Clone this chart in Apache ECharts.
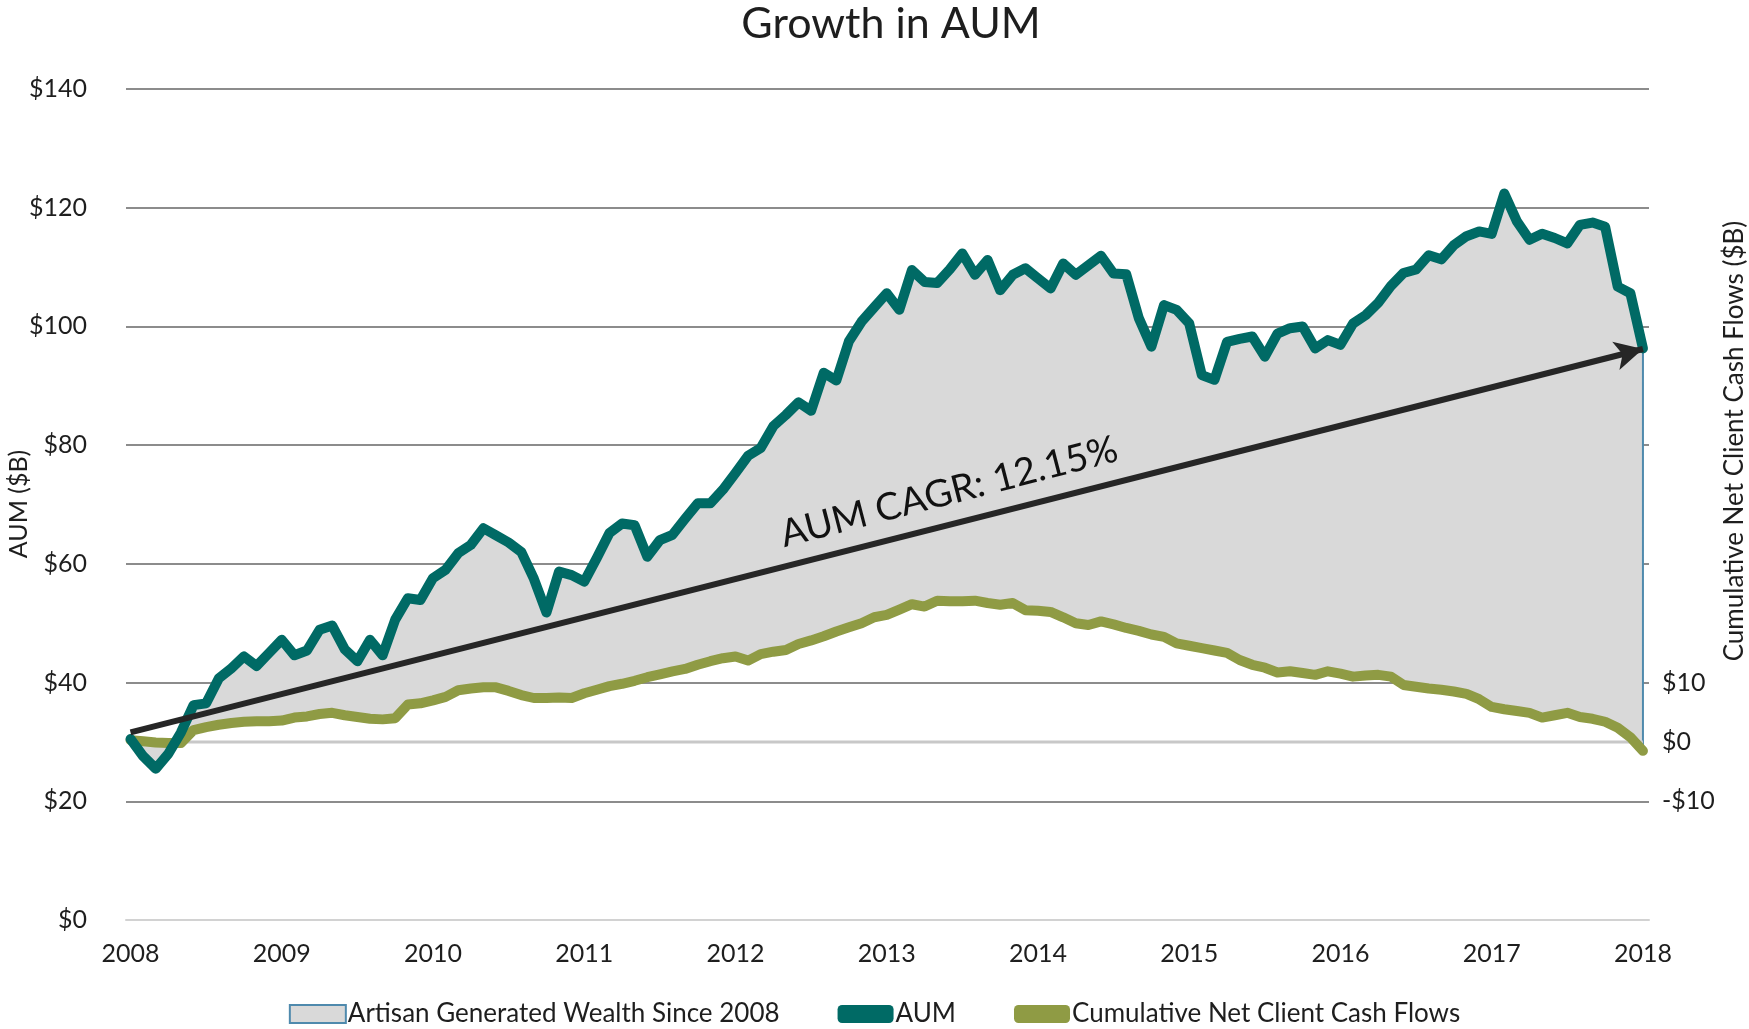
<!DOCTYPE html>
<html>
<head>
<meta charset="utf-8">
<script src="https://cdn.jsdelivr.net/npm/echarts@6/dist/echarts.min.js"></script>
<style>
  html, body { margin: 0; padding: 0; background: #ffffff; }
  #chart { width: 1749px; height: 1029px; }
</style>
</head>
<body>
<div id="chart"></div>
<script>
// ---------- data ----------
const startYear = 2008;
const yearTicks = [2008, 2009, 2010, 2011, 2012, 2013, 2014, 2015, 2016, 2017, 2018];
// monthly points, Jan 2008 .. Jan 2018
const aum = [
  30.5, 27.6, 25.5, 28.0, 31.6, 36.2, 36.5, 40.7, 42.4, 44.4, 42.8, 45.0,
  47.2, 44.6, 45.4, 48.9, 49.6, 45.6, 43.6, 47.2, 44.6, 50.6, 54.2, 53.9,
  57.6, 59.0, 61.8, 63.2, 66.0, 64.8, 63.6, 62.0, 57.5, 51.8, 58.7, 58.1,
  57.0, 61.0, 65.2, 66.8, 66.5, 61.2, 64.0, 64.9, 67.6, 70.2, 70.2, 72.5,
  75.3, 78.2, 79.5, 83.2, 85.1, 87.2, 85.8, 92.2, 90.9, 97.5, 100.8, 103.2,
  105.6, 102.8, 109.5, 107.5, 107.3, 109.6, 112.3, 108.7, 111.2, 106.1, 108.7, 109.8,
  108.1, 106.4, 110.6, 108.7, 110.3, 111.9, 108.9, 108.8, 101.4, 96.6, 103.6, 102.8,
  100.5, 91.8, 91.0, 97.4, 97.9, 98.3, 94.9, 98.8, 99.7, 100.0, 96.3, 97.7,
  96.9, 100.5, 101.9, 104.0, 106.8, 109.0, 109.6, 112.0, 111.3, 113.7, 115.2, 116.0,
  115.6, 122.4, 117.7, 114.6, 115.6, 114.9, 114.0, 117.1, 117.5, 116.8, 106.7, 105.6,
  96.3
];
const netFlows = [
  0.3, 0.1, -0.1, -0.2, -0.2, 2.0, 2.5, 2.9, 3.2, 3.4, 3.5, 3.5,
  3.6, 4.1, 4.3, 4.7, 4.9, 4.5, 4.2, 3.9, 3.8, 4.0, 6.3, 6.5,
  7.0, 7.6, 8.7, 9.0, 9.2, 9.2, 8.6, 7.9, 7.4, 7.4, 7.5, 7.4,
  8.2, 8.8, 9.4, 9.8, 10.3, 10.9, 11.4, 11.9, 12.3, 13.0, 13.6, 14.1,
  14.4, 13.7, 14.8, 15.2, 15.5, 16.5, 17.1, 17.8, 18.6, 19.3, 20.0, 21.0,
  21.4, 22.3, 23.2, 22.8, 23.8, 23.7, 23.7, 23.8, 23.4, 23.1, 23.4, 22.2,
  22.1, 21.9, 21.0, 20.0, 19.7, 20.3, 19.8, 19.2, 18.7, 18.1, 17.7, 16.6,
  16.2, 15.8, 15.4, 15.0, 13.8, 13.0, 12.5, 11.7, 11.9, 11.6, 11.3, 11.9,
  11.5, 11.0, 11.2, 11.3, 11.0, 9.6, 9.3, 9.0, 8.8, 8.5, 8.1, 7.2,
  5.9, 5.5, 5.2, 4.9, 4.1, 4.5, 4.9, 4.2, 3.9, 3.4, 2.4, 0.8,
  -1.5
];
const cagrLine = [31.6, 96.2];          // AUM at start / end of the CAGR arrow
const rightLabelValues = [-10, 0, 10];
const rightTickValues = [-10, 10, 30, 50, 70, 90, 110];

const months = aum.map((_, i) => startYear + i / 12);
const leftMin = 0, leftMax = 140;
const rightMin = -30, rightMax = 110;
const flowOffset = leftMin - rightMin;   // right axis value v sits at left value v + 30

const names = {
  band: 'Artisan Generated Wealth Since 2008',
  aum: 'AUM',
  flows: 'Cumulative Net Client Cash Flows'
};
const C = {
  teal: '#006A65', olive: '#8F9B44', band: '#D9D9D9', bandEdge: '#4F8AAD',
  grid: '#8C8C8C', base: '#D2D2D2', text: '#1E1E1E', arrow: '#262626'
};
const FONT = 'Lato, "Open Sans", sans-serif';

const chart = echarts.init(document.getElementById('chart'));
chart.setOption({
  animation: false,
  backgroundColor: '#ffffff',
  textStyle: { fontFamily: FONT },
  title: {
    text: 'Growth in AUM',
    left: 886, top: -2, textAlign: 'center',
    textStyle: { fontFamily: FONT, fontSize: 43, fontWeight: 'normal', color: C.text }
  },
  grid: { left: 126, right: 100, top: 89, bottom: 109 },
  legend: {
    bottom: -3, left: 'center',
    itemWidth: 56, itemHeight: 18, itemGap: 58,
    textStyle: { fontFamily: FONT, fontSize: 26, color: C.text, padding: [0, 0, 0, -3] },
    data: [
      { name: names.band, icon: 'rect', itemStyle: { color: C.band, borderColor: C.bandEdge, borderWidth: 2 } },
      { name: names.aum, icon: 'roundRect', itemStyle: { color: C.teal } },
      { name: names.flows, icon: 'roundRect', itemStyle: { color: C.olive } }
    ]
  },
  xAxis: {
    type: 'value', min: 2007.97, max: 2018.04,
    axisLine: { show: true, lineStyle: { color: C.base, width: 2 } },
    axisTick: { show: false },
    splitLine: { show: false },
    axisLabel: {
      customValues: yearTicks, margin: 21,
      fontFamily: FONT, fontSize: 25, color: C.text,
      formatter: v => String(Math.round(v))
    }
  },
  yAxis: [
    {
      type: 'value', min: leftMin, max: leftMax, interval: 20,
      axisLine: { show: false }, axisTick: { show: false },
      splitLine: { show: true, lineStyle: { width: 2, color: [C.base, C.grid, C.grid, C.grid, C.grid, C.grid, C.grid, C.grid] } },
      axisLabel: { margin: 39, fontFamily: FONT, fontSize: 25, color: C.text, formatter: v => '$' + v }
    },
    {
      type: 'value', min: rightMin, max: rightMax, interval: 10, position: 'right',
      axisLine: { show: false },
      splitLine: { show: false },
      axisTick: { show: true, inside: true, length: 7, customValues: rightTickValues, lineStyle: { color: C.grid, width: 2 } },
      axisLabel: {
        customValues: rightLabelValues, margin: 13,
        fontFamily: FONT, fontSize: 25, color: C.text,
        formatter: v => (v < 0 ? '-$' + Math.abs(v) : '$' + v)
      }
    }
  ],
  graphic: [
    { type: 'text', x: 19, y: 504, rotation: Math.PI / 2, silent: true,
      style: { text: 'AUM ($B)', font: '25px ' + FONT, fill: C.text, align: 'center', verticalAlign: 'middle' } },
    { type: 'text', x: 1735, y: 441, rotation: Math.PI / 2, silent: true,
      style: { text: 'Cumulative Net Client Cash Flows ($B)', font: '26px ' + FONT, fill: C.text, align: 'center', verticalAlign: 'middle' } },
    { type: 'text', x: 949, y: 492, rotation: 14.5 * Math.PI / 180, silent: true, z: 100,
      style: { text: 'AUM CAGR: 12.15%', font: '38px ' + FONT, fill: '#111111', align: 'center', verticalAlign: 'middle' } }
  ],
  series: [
    {
      name: names.band, type: 'custom', xAxisIndex: 0, yAxisIndex: 0, z: 1, silent: true,
      data: [[months[0], aum[0]]],
      renderItem: function (params, api) {
        const pts = [];
        for (let i = 0; i < months.length; i++) pts.push(api.coord([months[i], aum[i]]));
        for (let i = months.length - 1; i >= 0; i--) pts.push(api.coord([months[i], netFlows[i] + flowOffset]));
        return { type: 'polygon', shape: { points: pts }, style: { fill: C.band, stroke: C.bandEdge, lineWidth: 2 } };
      }
    },
    {
      name: 'zero', type: 'line', yAxisIndex: 1, z: 2, silent: true, symbol: 'none',
      data: [[months[0], 0], [months[months.length - 1], 0]],
      lineStyle: { color: '#C8C8C8', width: 3 }
    },
    {
      name: names.flows, type: 'line', yAxisIndex: 1, z: 3, symbol: 'none', silent: true,
      data: months.map((m, i) => [m, netFlows[i]]),
      lineStyle: { color: C.olive, width: 10, cap: 'round', join: 'round' },
      itemStyle: { color: C.olive }
    },
    {
      name: names.aum, type: 'line', yAxisIndex: 0, z: 4, symbol: 'none', silent: true,
      data: months.map((m, i) => [m, aum[i]]),
      lineStyle: { color: C.teal, width: 10, cap: 'round', join: 'round' },
      itemStyle: { color: C.teal },
      markLine: {
        silent: true, symbol: ['none', 'arrow'], symbolSize: [22, 28],
        label: { show: false },
        lineStyle: { color: C.arrow, width: 6, type: 'solid' },
        data: [[{ coord: [yearTicks[0], cagrLine[0]] }, { coord: [yearTicks[yearTicks.length - 1], cagrLine[1]] }]],
        z: 10
      }
    }
  ]
});
</script>
</body>
</html>
